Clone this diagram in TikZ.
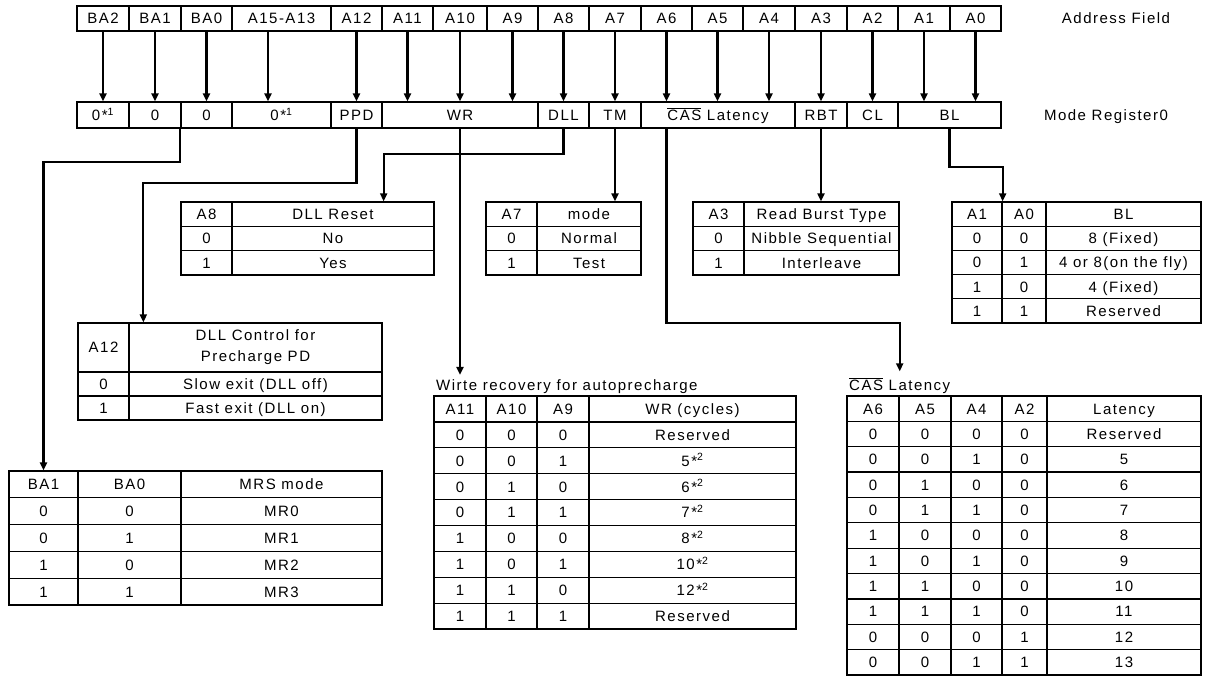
\documentclass[tikz,border=0pt]{standalone}
\usepackage{fontspec}
\setmainfont{Liberation Sans}
\newfontfamily\tabfont[LetterSpace=10]{Liberation Sans}
\usetikzlibrary{arrows.meta}
\tikzset{
  fnt/.style={inner sep=0pt, font={\tabfont\fontsize{15}{17}\selectfont}},
  lbl/.style={fnt, text height=10.8pt, text depth=0pt},
  cell/.style={lbl, draw, line width=1.3pt},
  conn/.style={line width=2.2pt, -{Triangle[width=7pt,length=8pt]}},
}
\newcommand\cellat[6]{\node[cell, minimum width={(#3-#2)*1pt}, minimum height={(#5-#4)*1pt}] (#1) at ({(#2+#3)/2},{(#4+#5)/2}) {#6};}
\begin{document}
\begin{tikzpicture}[x=1pt,y=-1pt]
\useasboundingbox (0,0) rectangle (1205,677);

% address field row
\foreach \va/\xa/\xb [count=\i] in {BA2/77/129, BA1/129/181, BA0/181/232, A15-A13/232/331, A12/331/382, A11/382/433, A10/433/487, A9/487/538, A8/538/589, A7/589/641, A6/641/692, A5/692/743, A4/743/795, A3/795/847, A2/847/898, A1/898/950, A0/950/1001}
  {\cellat{ad\i}{\xa}{\xb}{6}{31}{\va}}

% mode register row
\foreach \va/\xa/\xb [count=\i] in {{0*\textsuperscript{1}}/77/129, 0/129/181, 0/181/232, {0*\textsuperscript{1}}/232/331, PPD/331/382, WR/382/538, DLL/538/589, TM/589/641, {$\overline{\hbox{CAS}}$ Latency}/641/795, RBT/795/847, CL/847/898, BL/898/1001}
  {\cellat{m\i}{\xa}{\xb}{102}{128}{\va}}

\node[lbl] (af) at (1116,18.5) {Address Field};
\node[lbl] (mr) at (1106,115) {Mode Register0};

% arrows address -> mode
\foreach \i in {1,2,3,5,6,7,8,9,10,11,12,13,14,15,16,17}
  \draw[conn] (ad\i.south) -- (ad\i.south |- m1.north);
\draw[conn] ([xshift=-13.5pt]ad4.south) -- ([xshift=-13.5pt]ad4.south |- m1.north);

% DLL reset table
\foreach \va/\vb [count=\i from 0] in {A8/DLL Reset, 0/No, 1/Yes}{
  \pgfmathsetmacro\ya{202+24.33*\i}\pgfmathsetmacro\yb{\ya+24.33}
  \cellat{dll-\i-1}{181}{232}{\ya}{\yb}{\va}
  \cellat{dll-\i-2}{232}{434}{\ya}{\yb}{\vb}}

% test mode table
\foreach \va/\vb [count=\i from 0] in {A7/mode, 0/Normal, 1/Test}{
  \pgfmathsetmacro\ya{202+24.33*\i}\pgfmathsetmacro\yb{\ya+24.33}
  \cellat{mode-\i-1}{486}{537}{\ya}{\yb}{\va}
  \cellat{mode-\i-2}{537}{641}{\ya}{\yb}{\vb}}

% read burst type table
\foreach \va/\vb [count=\i from 0] in {A3/Read Burst Type, 0/Nibble Sequential, 1/Interleave}{
  \pgfmathsetmacro\ya{202+24.33*\i}\pgfmathsetmacro\yb{\ya+24.33}
  \cellat{rbt-\i-1}{693}{744}{\ya}{\yb}{\va}
  \cellat{rbt-\i-2}{744}{899}{\ya}{\yb}{\vb}}

% burst length table
\foreach \va/\vb/\vc [count=\i from 0] in {A1/A0/BL, 0/0/8 (Fixed), 0/1/4 or 8(on the fly), 1/0/4 (Fixed), 1/1/Reserved}{
  \pgfmathsetmacro\ya{202+24.2*\i}\pgfmathsetmacro\yb{\ya+24.2}
  \cellat{bl-\i-1}{952}{1002}{\ya}{\yb}{\va}
  \cellat{bl-\i-2}{1002}{1046}{\ya}{\yb}{\vb}
  \cellat{bl-\i-3}{1046}{1201}{\ya}{\yb}{\vc}}

% A12 table
\cellat{a12-0-1}{78}{129}{323}{372}{A12}
\node[fnt, draw, line width=1.3pt, align=center, minimum width=253pt, minimum height=49pt] (a12-0-2) at (255.5,347.5) {DLL Control for\\[4pt]Precharge PD};
\foreach \va/\vb [count=\i] in {0/Slow exit (DLL off), 1/Fast exit (DLL on)}{
  \pgfmathsetmacro\ya{372+24*(\i-1)}\pgfmathsetmacro\yb{\ya+24}
  \cellat{a12-\i-1}{78}{129}{\ya}{\yb}{\va}
  \cellat{a12-\i-2}{129}{382}{\ya}{\yb}{\vb}}

% write recovery table
\node[fnt, anchor=base west] (wrt) at (436,390) {Wirte recovery for autoprecharge};
\foreach \va/\vb/\vc/\vd [count=\i from 0] in {A11/A10/A9/WR (cycles), 0/0/0/Reserved, 0/0/1/5*\textsuperscript{2}, 0/1/0/6*\textsuperscript{2}, 0/1/1/7*\textsuperscript{2}, 1/0/0/8*\textsuperscript{2}, 1/0/1/10*\textsuperscript{2}, 1/1/0/12*\textsuperscript{2}, 1/1/1/Reserved}{
  \pgfmathsetmacro\ya{396+25.9*\i}\pgfmathsetmacro\yb{\ya+25.9}
  \cellat{wr-\i-1}{434}{486}{\ya}{\yb}{\va}
  \cellat{wr-\i-2}{486}{537}{\ya}{\yb}{\vb}
  \cellat{wr-\i-3}{537}{589}{\ya}{\yb}{\vc}
  \cellat{wr-\i-4}{589}{796}{\ya}{\yb}{\vd}}

% CAS latency table
\node[fnt, anchor=base west] (cast) at (849,390) {$\overline{\hbox{CAS}}$ Latency};
\foreach \va/\vb/\vc/\vd/\ve [count=\i from 0] in {A6/A5/A4/A2/Latency, 0/0/0/0/Reserved, 0/0/1/0/5, 0/1/0/0/6, 0/1/1/0/7, 1/0/0/0/8, 1/0/1/0/9, 1/1/0/0/10, 1/1/1/0/11, 0/0/0/1/12, 0/0/1/1/13}{
  \pgfmathsetmacro\ya{396+25.36*\i}\pgfmathsetmacro\yb{\ya+25.36}
  \cellat{cas-\i-1}{847}{899}{\ya}{\yb}{\va}
  \cellat{cas-\i-2}{899}{951}{\ya}{\yb}{\vb}
  \cellat{cas-\i-3}{951}{1002}{\ya}{\yb}{\vc}
  \cellat{cas-\i-4}{1002}{1047}{\ya}{\yb}{\vd}
  \cellat{cas-\i-5}{1047}{1201}{\ya}{\yb}{\ve}}

% MRS mode table
\foreach \va/\vb/\vc [count=\i from 0] in {BA1/BA0/MRS mode, 0/0/MR0, 0/1/MR1, 1/0/MR2, 1/1/MR3}{
  \pgfmathsetmacro\ya{471+26.8*\i}\pgfmathsetmacro\yb{\ya+26.8}
  \cellat{mrs-\i-1}{9}{78}{\ya}{\yb}{\va}
  \cellat{mrs-\i-2}{78}{181}{\ya}{\yb}{\vb}
  \cellat{mrs-\i-3}{181}{382}{\ya}{\yb}{\vc}}

% connectors from mode register to tables
\draw[conn] (m3.south west) -- ++(0,33) -| (mrs-0-1.north);
\draw[conn] (m5.south) -- ++(0,54) -| ([xshift=15pt]a12-0-2.north west);
\draw[conn] (m7.south) -- ++(0,25) -| ([xshift=-51pt]dll-0-2.north east);
\draw[conn] (m6.south) -- ([yshift=4pt]m6.south |- wrt.north);
\draw[conn] (m8.south) -- (m8.south |- mode-0-2.north);
\draw[conn] (ad11.south |- m9.south) -- ++(0,194) -| ([yshift=6pt]cast.north);
\draw[conn] (m10.south) -- (m10.south |- rbt-0-2.north);
\draw[conn] (m12.south) -- ++(0,38) -| (bl-0-1.north east);
\end{tikzpicture}
\end{document}
